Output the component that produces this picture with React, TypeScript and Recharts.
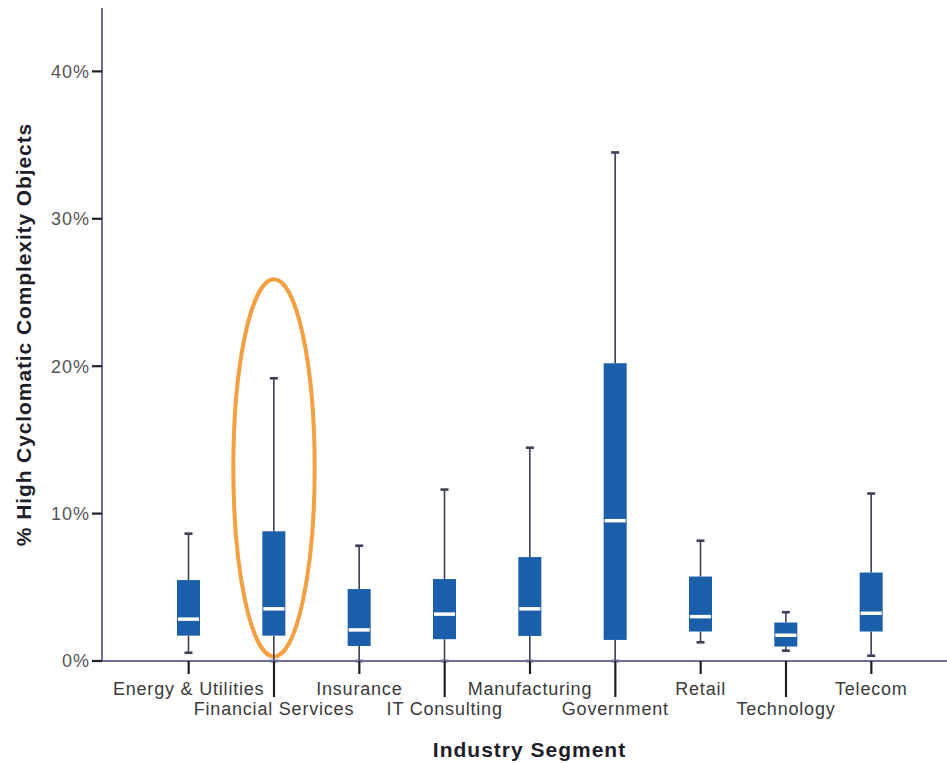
import React from 'react';
import {
  ComposedChart,
  Bar,
  XAxis,
  YAxis,
  ReferenceArea,
} from 'recharts';

const BOX_BLUE = '#1b5ea9';
const WHISKER = '#3d3f58';
const AXIS_LINE = '#6f6f9c';
const TICK_DARK = '#1f1f28';
const LABEL_GRAY = '#555555';
const HIGHLIGHT = '#f5a040';
const FONT = '"Liberation Sans", Arial, sans-serif';

// industry segments on the x axis
const categories = [
  'Energy & Utilities',
  'Financial Services',
  'Insurance',
  'IT Consulting',
  'Manufacturing',
  'Government',
  'Retail',
  'Technology',
  'Telecom',
];

// % high cyclomatic complexity objects, five-number summary per segment
const whiskerLow = [0.56, 0, 0, 0, 0, 0, 1.27, 0.7, 0.36];
const q1 = [1.72, 1.72, 1.02, 1.48, 1.7, 1.43, 2.0, 0.98, 2.0];
const median = [2.84, 3.54, 2.11, 3.18, 3.54, 9.52, 3.01, 1.75, 3.24];
const q3 = [5.49, 8.8, 4.88, 5.56, 7.05, 20.2, 5.73, 2.61, 6.0];
const whiskerHigh = [8.64, 19.18, 7.82, 11.63, 14.47, 34.5, 8.16, 3.31, 11.36];

const yTicks = [0, 10, 20, 30, 40];

// highlighted segment (orange ellipse)
const highlightSegment = 'Financial Services';
const highlightRange = [0.3, 25.9];

const data = categories.map((name, i) => ({
  name,
  base: whiskerLow[i],
  lowWhisker: q1[i] - whiskerLow[i],
  lowBox: median[i] - q1[i],
  highBox: q3[i] - median[i],
  highWhisker: whiskerHigh[i] - q3[i],
}));

const makeWhisker = (capAtTop: boolean) => (props: any) => {
  const { x, y, width, height } = props;
  const cx = x + width / 2;
  const capY = capAtTop ? y : y + height;
  return (
    <g>
      <line x1={cx} x2={cx} y1={y} y2={y + height} stroke={WHISKER} strokeWidth={1.6} />
      <line x1={cx - 4} x2={cx + 4} y1={capY} y2={capY} stroke={WHISKER} strokeWidth={2.6} />
    </g>
  );
};

const LowerBox = (props: any) => {
  const { x, y, width, height } = props;
  return <rect x={x} y={y} width={width} height={height} fill={BOX_BLUE} />;
};

const UpperBox = (props: any) => {
  const { x, y, width, height } = props;
  return (
    <g>
      <rect x={x} y={y} width={width} height={height} fill={BOX_BLUE} />
      <line x1={x + 1} x2={x + width - 1} y1={y + height} y2={y + height} stroke="#ffffff" strokeWidth={3.5} />
    </g>
  );
};

const IndustryTick = (props: any) => {
  const { x, y, payload, index } = props;
  const lower = index % 2 === 1;
  return (
    <g>
      <line x1={x} x2={x} y1={y} y2={y + (lower ? 36 : 13)} stroke={TICK_DARK} strokeWidth={2.2} />
      <text
        x={x}
        y={y + (lower ? 54 : 34)}
        textAnchor="middle"
        fill="#3a3a3a"
        fontSize={18}
        fontFamily={FONT}
        letterSpacing={0.8}
      >
        {payload.value}
      </text>
    </g>
  );
};

const HighlightEllipse = (props: any) => {
  const { x, y, width, height } = props;
  return (
    <ellipse
      cx={x + width / 2}
      cy={y + height / 2}
      rx={width / 2 - 2}
      ry={height / 2}
      fill="none"
      stroke={HIGHLIGHT}
      strokeWidth={4}
    />
  );
};

export default function App() {
  return (
    <div style={{ position: 'absolute', left: 0, top: 0, background: '#fff' }}>
      <ComposedChart
        width={947}
        height={763}
        data={data}
        margin={{ top: 8, right: 0, bottom: 0, left: 0 }}
      >
        <XAxis
          dataKey="name"
          type="category"
          interval={0}
          height={102}
          padding={{ left: 44, right: 33 }}
          axisLine={{ stroke: AXIS_LINE, strokeWidth: 2 }}
          tickLine={false}
          tickSize={0}
          tickMargin={0}
          tick={<IndustryTick />}
          label={{
            value: 'Industry Segment',
            position: 'insideBottom',
            offset: 6,
            dx: 5,
            fill: '#1e1e2a',
            fontSize: 21,
            fontWeight: 'bold',
            fontFamily: FONT,
            letterSpacing: 1,
          }}
        />
        <YAxis
          type="number"
          domain={[0, 44.3]}
          ticks={yTicks}
          width={102}
          tickFormatter={(v) => `${v}%`}
          axisLine={{ stroke: AXIS_LINE, strokeWidth: 2 }}
          tickLine={{ stroke: TICK_DARK, strokeWidth: 2.2 }}
          tickSize={10}
          tickMargin={2}
          tick={{ fill: LABEL_GRAY, fontSize: 18, fontFamily: FONT, letterSpacing: 1 }}
          label={{
            value: '% High Cyclomatic Complexity Objects',
            angle: -90,
            position: 'insideLeft',
            offset: 24,
            fill: '#1e1e2a',
            fontSize: 21,
            fontWeight: 'bold',
            fontFamily: FONT,
            letterSpacing: 0.9,
            style: { textAnchor: 'middle' },
          }}
        />
        <Bar dataKey="base" stackId="box" fill="transparent" barSize={23} isAnimationActive={false} />
        <Bar dataKey="lowWhisker" stackId="box" barSize={23} shape={makeWhisker(false)} isAnimationActive={false} />
        <Bar dataKey="lowBox" stackId="box" barSize={23} shape={LowerBox} isAnimationActive={false} />
        <Bar dataKey="highBox" stackId="box" barSize={23} shape={UpperBox} isAnimationActive={false} />
        <Bar dataKey="highWhisker" stackId="box" barSize={23} shape={makeWhisker(true)} isAnimationActive={false} />
        <ReferenceArea
          x1={highlightSegment}
          x2={highlightSegment}
          y1={highlightRange[0]}
          y2={highlightRange[1]}
          shape={HighlightEllipse}
          ifOverflow="visible"
        />
      </ComposedChart>
    </div>
  );
}
